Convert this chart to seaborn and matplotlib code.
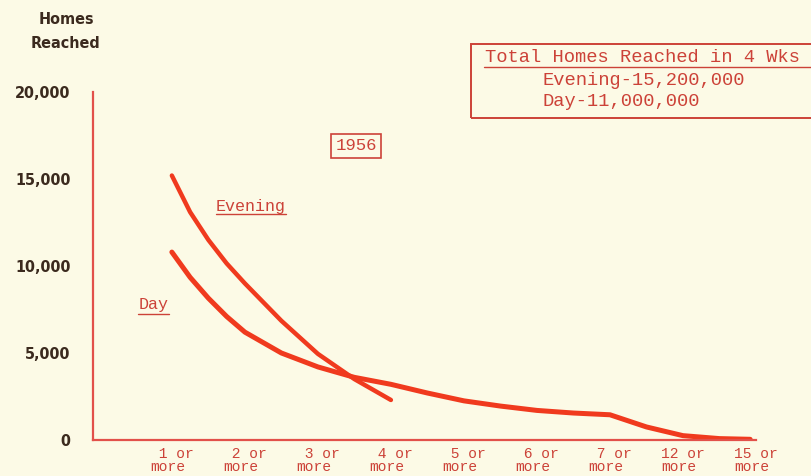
import pandas as pd
import seaborn as sns
import matplotlib.pyplot as plt
from matplotlib.lines import Line2D
from matplotlib.patches import Rectangle

# categories on the x axis (frequency of viewing in 4 weeks)
categories = [" 1 or\nmore", " 2 or\nmore", " 3 or\nmore", " 4 or\nmore", " 5 or\nmore",
              " 6 or\nmore", " 7 or\nmore", "12 or\nmore", "15 or\nmore"]
cat_pos = [1, 2, 3, 4, 5, 6, 7, 8, 9]

# homes reached (thousands)
evening_x = [1, 1.25, 1.5, 1.75, 2, 2.5, 3, 3.5, 4]
evening_y = [15.2, 13.1, 11.5, 10.15, 9.0, 6.85, 4.95, 3.5, 2.3]

day_x = [1, 1.25, 1.5, 1.75, 2, 2.5, 3, 3.5, 4, 4.5, 5, 5.5, 6, 6.5, 7, 7.5, 8, 8.5, 8.92]
day_y = [10.8, 9.35, 8.15, 7.1, 6.2, 5.0, 4.2, 3.6, 3.2, 2.7, 2.25, 1.95, 1.7, 1.55, 1.45,
         0.75, 0.25, 0.08, 0.04]

y_ticks = [0, 5, 10, 15, 20]
y_labels = ["0", "5,000", "10,000", "15,000", "20,000"]

bg = "#fcfae6"
red = "#f03a1e"
axred = "#e2504a"
txtred = "#cc4238"
dark = "#3b2a1e"
mono = "Liberation Mono"

sns.set_theme(style="white")
plt.rcParams["font.family"] = ["DejaVu Sans"]

fig = plt.figure(figsize=(8.11, 4.76), dpi=100, facecolor=bg)
ax = fig.add_axes([93/811, 1-440/476, (756-93)/811, (440-92)/476])
ax.set_facecolor(bg)

ev = pd.DataFrame({"x": evening_x, "y": evening_y})
dy = pd.DataFrame({"x": day_x, "y": day_y})
sns.lineplot(data=ev, x="x", y="y", ax=ax, color=red, lw=3.2, solid_capstyle="round",
             solid_joinstyle="round")
sns.lineplot(data=dy, x="x", y="y", ax=ax, color=red, lw=3.6, solid_capstyle="round",
             solid_joinstyle="round")

ax.set_xlim(-0.08, 9.0)
ax.set_ylim(0, 20)
ax.set_xlabel("")
ax.set_ylabel("")
for s in ["top", "right"]:
    ax.spines[s].set_visible(False)
for s in ["left", "bottom"]:
    ax.spines[s].set_color(axred)
    ax.spines[s].set_linewidth(1.6)

ax.set_yticks(y_ticks)
ax.set_yticklabels(y_labels, fontsize=11.5, fontweight="bold", color=dark,
                   fontstretch="condensed")
ax.tick_params(axis="y", direction="out", length=5, width=1.2, color=axred, pad=11)
ax.set_xticks(cat_pos)
ax.set_xticklabels(categories, fontsize=10.5, color=txtred, family=mono,
                   linespacing=0.9, multialignment="left")
ax.tick_params(axis="x", direction="in", length=5, width=1.4, color=axred, pad=5)

# axis title
fig.text(66/811, 1-20/476, "Homes", ha="center", va="center", fontsize=11.5,
         fontweight="bold", color=dark, fontstretch="condensed")
fig.text(65/811, 1-43/476, "Reached", ha="center", va="center", fontsize=11.5,
         fontweight="bold", color=dark, fontstretch="condensed")

# totals box
fig.add_artist(Rectangle((471/811, 1-118/476), 345/811, 74/476, transform=fig.transFigure,
                         fill=False, edgecolor=txtred, lw=1.4))
fig.text(485/811, 1-58/476, "Total Homes Reached in 4 Wks", ha="left", va="center",
         fontsize=13.5, color=txtred, family=mono)
fig.add_artist(Line2D([484/811, 811/811], [1-67/476, 1-67/476], color=txtred, lw=1.0))
fig.text(543/811, 1-80/476, "Evening-15,200,000", ha="left", va="center",
         fontsize=13.5, color=txtred, family=mono)
fig.text(543/811, 1-102/476, "Day-11,000,000", ha="left", va="center",
         fontsize=13.5, color=txtred, family=mono)

# year tag
fig.text(356/811, 1-146/476, "1956", ha="center", va="center", fontsize=12.5,
         color=txtred, family=mono,
         bbox=dict(boxstyle="square,pad=0.25", fc=bg, ec=txtred, lw=1.2))

# series labels
fig.text(251/811, 1-206/476, "Evening", ha="center", va="center", fontsize=12,
         color=txtred, family=mono)
fig.add_artist(Line2D([216/811, 286/811], [1-214/476, 1-214/476], color=txtred, lw=1.0))
fig.text(154/811, 1-305/476, "Day", ha="center", va="center", fontsize=12,
         color=txtred, family=mono)
fig.add_artist(Line2D([138/811, 169/811], [1-314/476, 1-314/476], color=txtred, lw=1.0))

plt.savefig("out.png", dpi=100, facecolor=bg)
